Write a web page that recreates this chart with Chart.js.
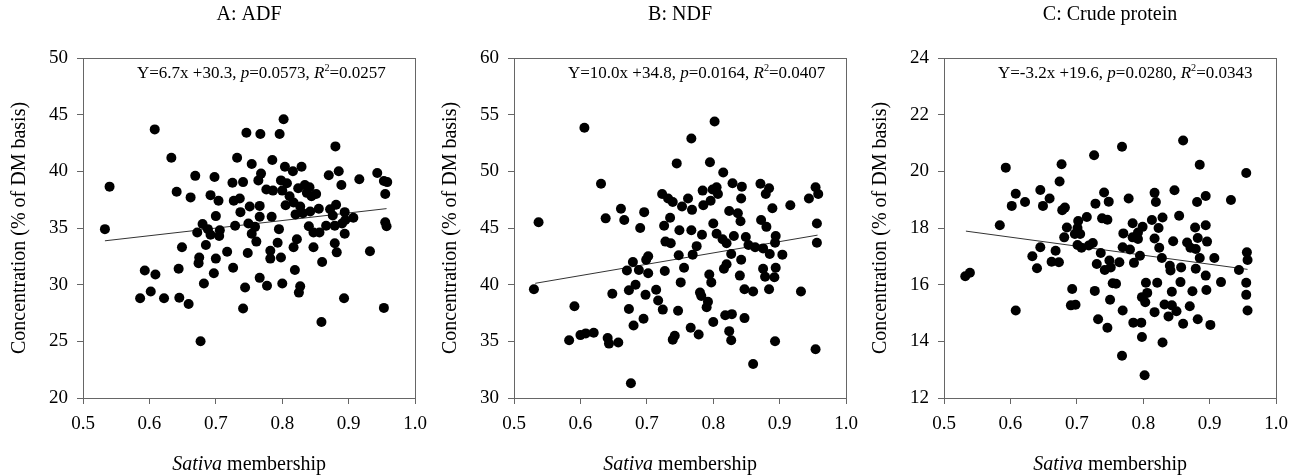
<!DOCTYPE html>
<html>
<head>
<meta charset="utf-8">
<script src="https://cdn.jsdelivr.net/npm/chart.js@4.4.1/dist/chart.umd.min.js"></script>
<style>
  body { margin: 0; background: #fff; width: 1312px; height: 476px; position: relative; overflow: hidden; }
  canvas { position: absolute; top: 0; }
</style>
</head>
<body>
<canvas id="chart_adf" width="436" height="476" style="left:0px"></canvas>
<canvas id="chart_ndf" width="436" height="476" style="left:431px"></canvas>
<canvas id="chart_cp" width="436" height="476" style="left:861px"></canvas>
<script>
// values: [sativa membership, concentration]
var adfPoints = [
  [0.608,43.7],[0.746,43.4],[0.767,43.3],[0.633,41.2],[0.732,41.2],[0.754,40.65],[0.669,39.6],[0.698,39.5],
  [0.540,38.65],[0.725,39.0],[0.741,39.05],[0.764,39.2],[0.641,38.2],[0.662,37.7],[0.692,37.9],[0.704,37.4],
  [0.727,37.4],[0.736,37.6],[0.751,36.9],[0.766,36.95],[0.737,36.4],[0.700,36.05],[0.766,36.0],[0.533,34.9],
  [0.680,35.35],[0.672,34.6],[0.688,34.9],[0.692,34.4],[0.705,34.3],[0.706,34.8],[0.729,35.2],[0.749,35.4],
  [0.759,35.1],[0.754,34.5],[0.761,33.8],[0.649,33.3],[0.685,33.5],[0.717,32.9],[0.748,32.8],[0.675,32.4],
  [0.674,31.9],[0.700,32.3],[0.726,31.5],[0.593,31.25],[0.609,30.9],[0.644,31.4],[0.697,31.0],[0.766,30.6],
  [0.682,30.1],[0.744,29.75],[0.602,29.4],[0.586,28.8],[0.622,28.8],[0.645,28.85],[0.659,28.3],[0.741,27.9],
  [0.677,25.0],[0.802,44.6],[0.796,43.3],[0.880,42.2],[0.785,41.0],[0.804,40.4],[0.816,40.0],[0.829,40.4],
  [0.768,39.8],[0.870,39.65],[0.885,40.0],[0.916,39.3],[0.943,39.85],[0.953,39.15],[0.958,39.05],[0.889,38.8],
  [0.798,39.2],[0.807,38.95],[0.776,38.4],[0.786,38.3],[0.800,38.3],[0.811,37.8],[0.824,38.5],[0.834,38.8],
  [0.841,38.6],[0.837,38.1],[0.844,37.8],[0.851,38.0],[0.955,38.0],[0.805,37.0],[0.817,37.25],[0.827,36.9],
  [0.820,36.2],[0.831,36.3],[0.842,36.45],[0.855,36.7],[0.872,36.65],[0.881,37.05],[0.876,36.1],[0.894,36.4],
  [0.895,35.7],[0.907,35.9],[0.784,36.0],[0.795,34.9],[0.840,35.15],[0.847,34.6],[0.856,34.6],[0.866,35.2],
  [0.879,35.2],[0.890,35.4],[0.955,35.5],[0.957,35.15],[0.894,34.5],[0.793,33.7],[0.822,34.0],[0.817,33.3],
  [0.782,33.0],[0.847,33.3],[0.879,33.65],[0.882,32.85],[0.932,32.95],[0.782,32.3],[0.798,32.4],[0.860,32.0],
  [0.819,31.3],[0.777,29.9],[0.800,30.1],[0.827,29.85],[0.825,29.3],[0.893,28.8],[0.953,27.95],[0.859,26.7]
];
var ndfPoints = [
  [0.606,53.85],[0.745,50.7],[0.631,48.9],[0.723,48.0],[0.732,47.6],[0.739,47.3],[0.753,46.9],[0.661,46.7],
  [0.696,46.4],[0.638,45.85],[0.666,45.7],[0.537,45.5],[0.690,45.0],[0.726,45.2],[0.735,45.9],[0.749,44.8],
  [0.728,43.8],[0.736,43.65],[0.748,42.6],[0.702,42.5],[0.699,42.2],[0.679,42.0],[0.670,41.25],[0.688,41.3],
  [0.702,41.0],[0.727,41.2],[0.756,41.5],[0.530,39.6],[0.648,39.2],[0.673,39.5],[0.683,40.0],[0.698,39.1],
  [0.714,39.55],[0.751,40.2],[0.591,38.1],[0.673,37.85],[0.717,38.6],[0.724,37.8],[0.747,37.7],[0.695,37.0],
  [0.680,36.4],[0.583,35.1],[0.600,35.55],[0.608,35.7],[0.620,35.75],[0.641,35.3],[0.643,34.8],[0.657,34.9],
  [0.742,35.5],[0.739,35.15],[0.676,31.3],[0.802,54.4],[0.767,52.9],[0.795,50.8],[0.815,49.9],[0.829,48.95],
  [0.843,48.65],[0.871,48.9],[0.884,48.5],[0.879,48.0],[0.842,47.6],[0.784,48.3],[0.799,48.4],[0.805,48.6],
  [0.807,48.0],[0.796,47.4],[0.762,47.6],[0.768,46.6],[0.785,47.0],[0.954,48.6],[0.958,48.0],[0.944,47.6],
  [0.916,47.0],[0.889,46.75],[0.824,46.5],[0.837,46.3],[0.841,45.6],[0.872,45.7],[0.880,45.1],[0.956,45.4],
  [0.800,45.4],[0.767,44.8],[0.783,44.4],[0.805,44.5],[0.814,44.0],[0.820,43.65],[0.831,44.3],[0.849,44.2],
  [0.853,43.5],[0.863,43.3],[0.875,43.2],[0.885,42.7],[0.894,44.3],[0.893,43.7],[0.956,43.7],[0.904,42.65],
  [0.775,43.4],[0.769,42.65],[0.827,42.7],[0.820,41.8],[0.816,41.4],[0.842,42.2],[0.840,40.8],[0.875,41.4],
  [0.894,41.5],[0.878,40.7],[0.892,40.65],[0.884,39.6],[0.794,40.9],[0.797,40.2],[0.847,39.6],[0.860,39.4],
  [0.932,39.4],[0.780,39.3],[0.782,39.0],[0.792,38.5],[0.790,38.0],[0.818,37.3],[0.828,37.4],[0.847,37.05],
  [0.800,36.7],[0.766,36.2],[0.778,35.6],[0.824,35.9],[0.827,35.1],[0.893,35.0],[0.954,34.3],[0.860,33.0]
];
var cpPoints = [
  [0.726,20.57],[0.593,20.13],[0.677,20.25],[0.674,19.64],[0.608,19.21],[0.645,19.34],[0.659,19.04],[0.602,18.78],
  [0.622,18.92],[0.649,18.78],[0.678,18.63],[0.682,18.72],[0.741,19.25],[0.748,18.93],[0.728,18.86],[0.715,18.39],
  [0.738,18.34],[0.746,18.29],[0.584,18.1],[0.702,18.25],[0.685,18.02],[0.701,18.0],[0.681,17.67],[0.697,17.79],
  [0.705,17.79],[0.701,17.4],[0.707,17.3],[0.718,17.38],[0.724,17.47],[0.645,17.32],[0.668,17.2],[0.633,17.0],
  [0.736,17.12],[0.662,16.81],[0.673,16.79],[0.640,16.58],[0.730,16.73],[0.749,16.85],[0.742,16.52],[0.532,16.3],
  [0.539,16.42],[0.754,16.05],[0.693,15.85],[0.727,15.78],[0.750,15.47],[0.691,15.27],[0.698,15.29],[0.608,15.09],
  [0.732,14.78],[0.746,14.48],[0.768,20.87],[0.860,21.09],[0.885,20.23],[0.955,19.94],[0.778,19.04],[0.817,19.24],
  [0.819,18.92],[0.847,19.33],[0.881,18.92],[0.894,19.13],[0.932,18.99],[0.854,18.43],[0.784,18.17],[0.813,18.28],
  [0.829,18.37],[0.799,18.04],[0.823,18.0],[0.770,17.81],[0.792,17.84],[0.784,17.67],[0.792,17.61],[0.817,17.63],
  [0.878,18.02],[0.894,18.1],[0.882,17.65],[0.845,17.53],[0.866,17.49],[0.896,17.52],[0.769,17.32],[0.780,17.24],
  [0.795,17.02],[0.824,17.3],[0.871,17.3],[0.879,17.26],[0.828,16.94],[0.885,16.94],[0.907,16.94],[0.956,17.14],
  [0.957,16.87],[0.764,16.79],[0.786,16.77],[0.840,16.67],[0.841,16.5],[0.857,16.61],[0.879,16.56],[0.944,16.52],
  [0.751,16.61],[0.759,16.03],[0.804,16.07],[0.821,16.07],[0.856,16.09],[0.894,16.32],[0.917,16.09],[0.955,16.07],
  [0.843,15.75],[0.874,15.77],[0.895,15.81],[0.806,15.71],[0.798,15.56],[0.803,15.38],[0.955,15.64],[0.832,15.3],
  [0.843,15.27],[0.850,15.06],[0.838,14.88],[0.817,15.03],[0.870,15.24],[0.957,15.09],[0.769,15.09],[0.785,14.66],
  [0.797,14.66],[0.860,14.62],[0.882,14.78],[0.901,14.58],[0.798,14.15],[0.829,13.96],[0.768,13.49],[0.802,12.8]
];

// fitted lines, end points as drawn
var adfFit = [[0.533,33.87],[0.957,36.71]];
var ndfFit = [[0.532,40.12],[0.957,44.37]];
var cpFit = [[0.533,17.89],[0.957,16.54]];

var panelTitles = ['A: ADF', 'B: NDF', 'C: Crude protein'];
var fitLabels = [
  ['Y=6.7x +30.3', '0.0573', '0.0257'],
  ['Y=10.0x +34.8', '0.0164', '0.0407'],
  ['Y=-3.2x +19.6', '0.0280', '0.0343']
];
var xTicks = [0.5, 0.6, 0.7, 0.8, 0.9, 1.0];
var adfTicks = [20, 25, 30, 35, 40, 45, 50];
var ndfTicks = [30, 35, 40, 45, 50, 55, 60];
var cpTicks = [12, 14, 16, 18, 20, 22, 24];

var FONT = '"Liberation Serif", "Times New Roman", serif';
var AXIS = '#666666';

function runsWidth(ctx, runs, size) {
  var w = 0;
  runs.forEach(function (r) {
    var s = r.sup ? size * 0.6 : size;
    ctx.font = (r.italic ? 'italic ' : '') + s + 'px ' + FONT;
    w += ctx.measureText(r.text).width;
  });
  return w;
}

function drawRuns(ctx, runs, x, y, size) {
  ctx.textBaseline = 'middle';
  ctx.textAlign = 'left';
  ctx.fillStyle = '#000';
  runs.forEach(function (r) {
    var s = r.sup ? size * 0.6 : size;
    ctx.font = (r.italic ? 'italic ' : '') + s + 'px ' + FONT;
    ctx.fillText(r.text, x, r.sup ? y - size * 0.33 : y);
    x += ctx.measureText(r.text).width;
  });
}

var panelText = {
  id: 'panelText',
  beforeDatasetsDraw: function (chart) {
    var a = chart.chartArea, ctx = chart.ctx;
    ctx.save();
    ctx.strokeStyle = AXIS;
    ctx.lineWidth = 1;
    ctx.strokeRect(Math.round(a.left) + 0.5, Math.round(a.top) + 0.5,
      Math.round(a.right - a.left), Math.round(a.bottom - a.top));
    ctx.restore();
  },
  afterDraw: function (chart, args, opts) {
    var a = chart.chartArea, ctx = chart.ctx;
    var cx = (a.left + a.right) / 2;
    ctx.save();
    var t = [{ text: opts.title }];
    drawRuns(ctx, t, cx - runsWidth(ctx, t, 20) / 2, 15, 20);
    var f = opts.fit;
    var eq = [
      { text: f[0] + ', ' }, { text: 'p', italic: true }, { text: '=' + f[1] + ', ' },
      { text: 'R', italic: true }, { text: '2', sup: true }, { text: '=' + f[2] }
    ];
    drawRuns(ctx, eq, a.left + 54, 74, 17);
    var xt = [{ text: 'Sativa', italic: true }, { text: ' membership' }];
    drawRuns(ctx, xt, cx - runsWidth(ctx, xt, 20) / 2, 465, 20);
    ctx.restore();
  }
};

function makePanel(id, idx, points, fit, yTicks) {
  return new Chart(document.getElementById(id), {
    type: 'scatter',
    data: {
      datasets: [
        {
          label: 'samples',
          data: points.map(function (p) { return { x: p[0], y: p[1] }; }),
          pointRadius: 5,
          pointHoverRadius: 5,
          pointBackgroundColor: '#000',
          pointBorderWidth: 0
        },
        {
          label: 'fit',
          data: fit.map(function (p) { return { x: p[0], y: p[1] }; }),
          showLine: true,
          borderColor: '#333',
          borderWidth: 1,
          pointRadius: 0
        }
      ]
    },
    options: {
      animation: false,
      responsive: false,
      devicePixelRatio: 1,
      layout: { padding: { top: 58, right: 14, bottom: 0, left: 0 } },
      plugins: {
        legend: { display: false },
        tooltip: { enabled: false },
        panelText: { title: panelTitles[idx], fit: fitLabels[idx] }
      },
      scales: {
        x: {
          type: 'linear',
          min: xTicks[0],
          max: xTicks[xTicks.length - 1],
          afterBuildTicks: function (s) { s.ticks = xTicks.map(function (v) { return { value: v }; }); },
          afterFit: function (s) { s.height = 78; },
          ticks: {
            color: '#000',
            font: { family: FONT, size: 19 },
            padding: 9,
            maxRotation: 0,
            callback: function (v) { return Number(v).toFixed(1); }
          },
          grid: { drawOnChartArea: false, drawTicks: true, tickLength: 6, color: AXIS },
          border: { display: false }
        },
        y: {
          type: 'linear',
          min: yTicks[0],
          max: yTicks[yTicks.length - 1],
          afterBuildTicks: function (s) { s.ticks = yTicks.map(function (v) { return { value: v }; }); },
          afterFit: function (s) { s.width = 83; },
          ticks: { color: '#000', font: { family: FONT, size: 19 }, padding: 9 },
          grid: { drawOnChartArea: false, drawTicks: true, tickLength: 6, color: AXIS },
          border: { display: false },
          title: {
            display: true,
            text: 'Concentration (% of DM basis)',
            color: '#000',
            font: { family: FONT, size: 20 },
            padding: { top: 8, bottom: 0 }
          }
        }
      }
    },
    plugins: [panelText]
  });
}

var chart_adf = makePanel('chart_adf', 0, adfPoints, adfFit, adfTicks);
var chart_ndf = makePanel('chart_ndf', 1, ndfPoints, ndfFit, ndfTicks);
var chart_cp = makePanel('chart_cp', 2, cpPoints, cpFit, cpTicks);
</script>
</body>
</html>
